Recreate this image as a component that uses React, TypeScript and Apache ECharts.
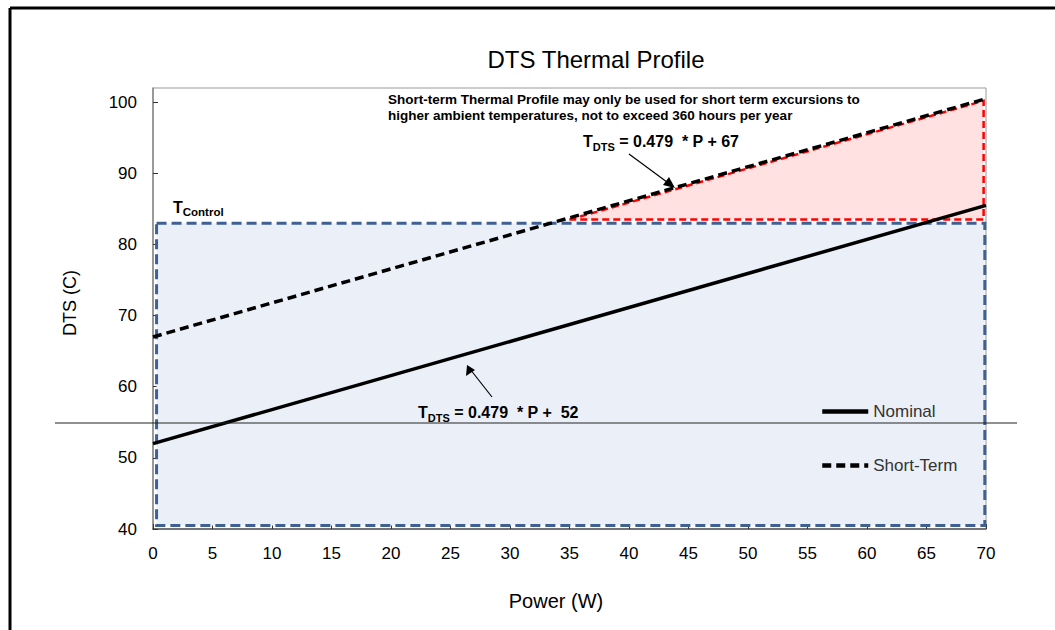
import React, { useEffect, useRef } from "react";
import * as echarts from "echarts";

// ---- data ----
const xTicks = [0, 5, 10, 15, 20, 25, 30, 35, 40, 45, 50, 55, 60, 65, 70];
const yTicks = [40, 50, 60, 70, 80, 90, 100];
const nominal: number[][] = [
  [0, 52],
  [70, 85.5],
];
const shortTerm: number[][] = [
  [0, 67],
  [70, 100.5],
];
// T_control envelope box: [xMin, yMin, xMax, yMax]
const controlBox = [0.3, 40.5, 69.9, 83];
// short-term excursion region (triangle vertices)
const excursion: number[][] = [
  [35, 83.5],
  [69.8, 100.2],
  [69.8, 83.5],
];

const FONT = "Liberation Sans, Arial, sans-serif";

export default function App() {
  const ref = useRef<HTMLDivElement>(null);

  useEffect(() => {
    if (!ref.current) return;
    const chart = echarts.init(ref.current, undefined, { renderer: "svg" });

    const eqRich = {
      t: { fontSize: 16, fontWeight: "bold", fontFamily: FONT, color: "#000" },
      s: {
        fontSize: 11,
        fontWeight: "bold",
        fontFamily: FONT,
        color: "#000",
        padding: [12, 0, 0, 0],
      },
    };

    chart.setOption({
      animation: false,
      backgroundColor: "#fff",
      textStyle: { fontFamily: FONT },
      title: {
        text: "DTS Thermal Profile",
        left: 591,
        top: 42,
        textAlign: "center",
        textStyle: { fontSize: 24, fontWeight: "normal", color: "#000", fontFamily: FONT },
      },
      grid: { left: 153, right: 69, top: 88, bottom: 101, show: true, borderColor: "#999", borderWidth: 1 },
      legend: {
        data: ["Nominal", "Short-Term"],
        orient: "vertical",
        left: 820,
        top: 403,
        padding: 0,
        itemWidth: 46,
        itemHeight: 18,
        itemGap: 37,
        itemStyle: { opacity: 0 },
        lineStyle: { width: 4.5 },
        textStyle: { fontSize: 17, color: "#333", fontFamily: FONT },
      },
      xAxis: {
        type: "value",
        min: 0,
        max: 70,
        interval: 5,
        axisLine: { show: true, lineStyle: { color: "#555", width: 1.5 } },
        axisTick: { show: true, inside: true, length: 5, lineStyle: { color: "#333" } },
        axisLabel: { fontSize: 17, color: "#000", margin: 16, fontFamily: FONT },
        splitLine: { show: false },
      },
      yAxis: {
        type: "value",
        min: 40,
        max: 102,
        interval: 10,
        axisLine: { show: true, lineStyle: { color: "#888", width: 1.5 } },
        axisTick: { show: true, inside: true, length: 5, lineStyle: { color: "#333" } },
        axisLabel: { fontSize: 17, color: "#000", margin: 16, showMaxLabel: false, fontFamily: FONT },
        splitLine: { show: false },
      },
      series: [
        {
          name: "box",
          type: "custom",
          z: 1,
          silent: true,
          data: [controlBox],
          renderItem: (params: any, api: any) => {
            const p0 = api.coord([api.value(0), api.value(1)]);
            const p1 = api.coord([api.value(2), api.value(3)]);
            return {
              type: "rect",
              shape: { x: p0[0], y: p1[1], width: p1[0] - p0[0], height: p0[1] - p1[1] },
              style: {
                fill: "#EBF0F8",
                stroke: "#3E6092",
                lineWidth: 3,
                lineDash: [10, 5],
              },
            };
          },
        },
        {
          name: "excursion",
          type: "custom",
          z: 2,
          silent: true,
          data: [excursion.flat()],
          renderItem: (params: any, api: any) => {
            const pts = [];
            for (let i = 0; i < excursion.length; i++) {
              pts.push(api.coord([api.value(i * 2), api.value(i * 2 + 1)]));
            }
            return {
              type: "polygon",
              shape: { points: pts },
              style: {
                fill: "#FFE1E1",
                stroke: "#FF0000",
                lineWidth: 2.5,
                lineDash: [7, 4],
              },
            };
          },
        },
        {
          name: "Nominal",
          type: "line",
          z: 4,
          data: nominal,
          symbol: "none",
          lineStyle: { color: "#000", width: 3.5 },
          itemStyle: { color: "#000" },
        },
        {
          name: "Short-Term",
          type: "line",
          z: 4,
          data: shortTerm,
          symbol: "none",
          lineStyle: { color: "#000", width: 3.5, type: [9, 5] },
          itemStyle: { color: "#000" },
        },
      ],
      graphic: [
        // outer frame
        { type: "line", z: 100, shape: { x1: 10, y1: 8, x2: 1055, y2: 8 }, style: { stroke: "#000", lineWidth: 3 } },
        { type: "line", z: 100, shape: { x1: 10, y1: 8, x2: 10, y2: 630 }, style: { stroke: "#000", lineWidth: 3 } },
        // stray horizontal line
        { type: "line", z: 100, shape: { x1: 55, y1: 423, x2: 1017, y2: 423 }, style: { stroke: "#222", lineWidth: 1.2 } },
        // y axis name
        {
          type: "text",
          z: 100,
          x: 70,
          y: 303,
          rotation: Math.PI / 2,
          style: {
            text: "DTS (C)",
            fontSize: 18,
            fontFamily: FONT,
            fill: "#000",
            align: "center",
            verticalAlign: "middle",
          },
        },
        // x axis name
        {
          type: "text",
          z: 100,
          x: 556,
          y: 601,
          style: {
            text: "Power (W)",
            fontSize: 20,
            fontFamily: FONT,
            fill: "#000",
            align: "center",
            verticalAlign: "middle",
          },
        },
        // note
        {
          type: "text",
          z: 100,
          x: 388,
          y: 91,
          style: {
            text:
              "Short-term Thermal Profile may only be used for short term excursions to\nhigher ambient temperatures, not to exceed 360 hours per year",
            fontSize: 13.5,
            fontWeight: "bold",
            fontFamily: FONT,
            fill: "#000",
            lineHeight: 16,
          },
        },
        // equation short-term
        {
          type: "text",
          z: 100,
          x: 583,
          y: 141,
          style: {
            text: "{t|T}{s|DTS}{t| = 0.479  * P + 67}",
            rich: eqRich,
            verticalAlign: "middle",
          },
        },
        // equation nominal
        {
          type: "text",
          z: 100,
          x: 418,
          y: 412,
          style: {
            text: "{t|T}{s|DTS}{t| = 0.479  * P +  52}",
            rich: eqRich,
            verticalAlign: "middle",
          },
        },
        // T control label
        {
          type: "text",
          z: 100,
          x: 173,
          y: 207,
          style: {
            text: "{t|T}{s|Control}",
            rich: {
              t: { fontSize: 16, fontWeight: "bold", fontFamily: FONT, color: "#000" },
              s: { fontSize: 11.5, fontWeight: "bold", fontFamily: FONT, color: "#000", padding: [10, 0, 0, 0] },
            },
            verticalAlign: "middle",
          },
        },
        // arrow to short-term line
        { type: "line", z: 100, shape: { x1: 629, y1: 154, x2: 671, y2: 185 }, style: { stroke: "#000", lineWidth: 1.2 } },
        {
          type: "polygon",
          z: 100,
          shape: { points: [[675, 188], [663, 185], [669, 177]] },
          style: { fill: "#000" },
        },
        // arrow to nominal line
        { type: "line", z: 100, shape: { x1: 492, y1: 397, x2: 470, y2: 369 }, style: { stroke: "#000", lineWidth: 1.2 } },
        {
          type: "polygon",
          z: 100,
          shape: { points: [[467, 365], [466, 376], [475, 370]] },
          style: { fill: "#000" },
        },
      ],
    });

    return () => chart.dispose();
  }, []);

  return <div ref={ref} style={{ position: "absolute", left: 0, top: 0, width: 1055, height: 630 }} />;
}
